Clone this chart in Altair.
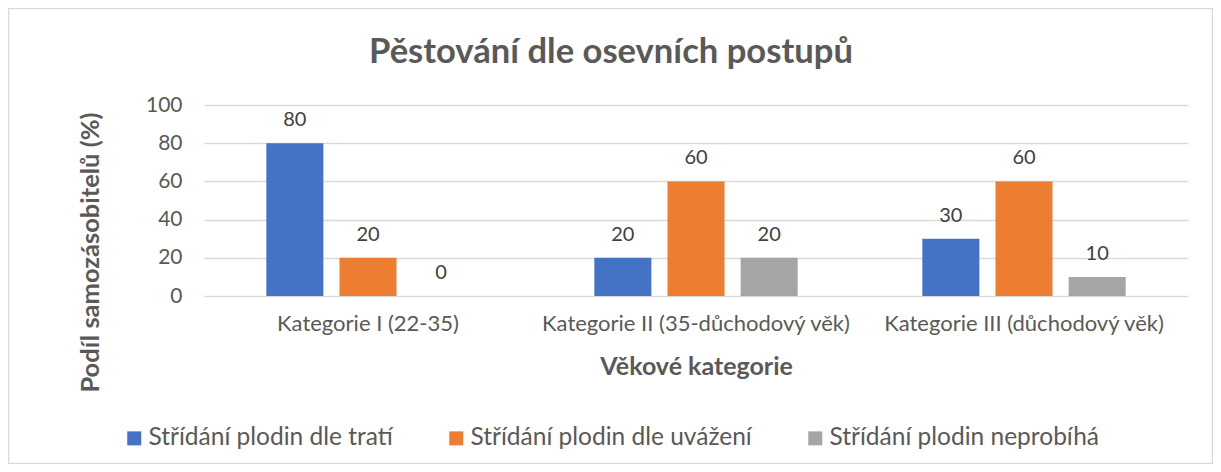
import altair as alt
import pandas as pd

categories = ["Kategorie I (22-35)", "Kategorie II (35-důchodový věk)", "Kategorie III (důchodový věk)"]
series = ["Střídání plodin dle tratí", "Střídání plodin dle uvážení", "Střídání plodin neprobíhá"]
dle_trati = [80, 20, 30]
dle_uvazeni = [20, 60, 60]
neprobiha = [0, 20, 10]
colors = ["#4472C4", "#ED7D31", "#A5A5A5"]

rows = []
for s, vals in zip(series, [dle_trati, dle_uvazeni, neprobiha]):
    for c, v in zip(categories, vals):
        rows.append({"kategorie": c, "serie": s, "hodnota": v})
df = pd.DataFrame(rows)

FONT = "Lato"
GRAY = "#595959"

x_enc = alt.X("kategorie:N", sort=categories,
              scale=alt.Scale(paddingInner=0.38, paddingOuter=0.19),
              axis=alt.Axis(title="Věkové kategorie", labelAngle=0, ticks=False, domain=False,
                            labelFontSize=22, labelColor=GRAY, labelPadding=17, labelLimit=400,
                            titleFontSize=25, titleFontWeight="bold", titleColor=GRAY,
                            titleBaseline="middle", titleY=70))
xo_enc = alt.XOffset("serie:N", sort=series, scale=alt.Scale(paddingInner=0.22, paddingOuter=0))
y_enc = alt.Y("hodnota:Q", scale=alt.Scale(domain=[0, 100]),
              axis=alt.Axis(title="Podíl samozásobitelů (%)", values=[0, 20, 40, 60, 80, 100],
                            ticks=False, domain=False, gridColor="#D9D9D9", gridWidth=1.5,
                            labelFontSize=21, labelColor=GRAY, labelPadding=22,
                            titleFontSize=25.5, titleFontWeight="bold", titleColor=GRAY,
                            titleAngle=-90, titleAlign="center", titleBaseline="middle",
                            titleX=-114, titleY=147))

base = alt.Chart(df)
bars = base.mark_bar().encode(
    x=x_enc, xOffset=xo_enc, y=y_enc,
    color=alt.Color("serie:N", sort=series, scale=alt.Scale(domain=series, range=colors),
                    legend=alt.Legend(title=None, orient="none", legendX=-82, legendY=321,
                                      direction="horizontal", symbolType="square", symbolSize=196,
                                      symbolStrokeWidth=0, labelFontSize=24.5, labelColor=GRAY,
                                      labelOffset=2, columnPadding=51, labelLimit=500)),
)
labels = base.mark_text(dy=-17, baseline="alphabetic", fontSize=20, color="#404040").encode(
    x=x_enc, xOffset=xo_enc, y=y_enc, text="hodnota:Q"
)
frame = alt.Chart(alt.Data(values=[{"a": 1}])).mark_rect(
    filled=False, stroke="#D9D9D9", strokeWidth=1.5
).encode(x=alt.value(-195.5), x2=alt.value(1008.5), y=alt.value(-96.5), y2=alt.value(358.5))

chart = alt.layer(frame, bars, labels).properties(
    width=984, height=191,
    title=alt.TitleParams("Pěstování dle osevních postupů", fontSize=34.6, fontWeight="bold",
                          color=GRAY, anchor="middle", baseline="alphabetic",
                          dx=-85, offset=0, dy=90),
    autosize=alt.AutoSizeParams(type="none"),
    padding={"left": 196, "top": 97, "right": 25, "bottom": 168},
).configure(font=FONT).configure_view(stroke=None)

chart.save("out.html", embed_options={"renderer": "svg", "actions": False})
